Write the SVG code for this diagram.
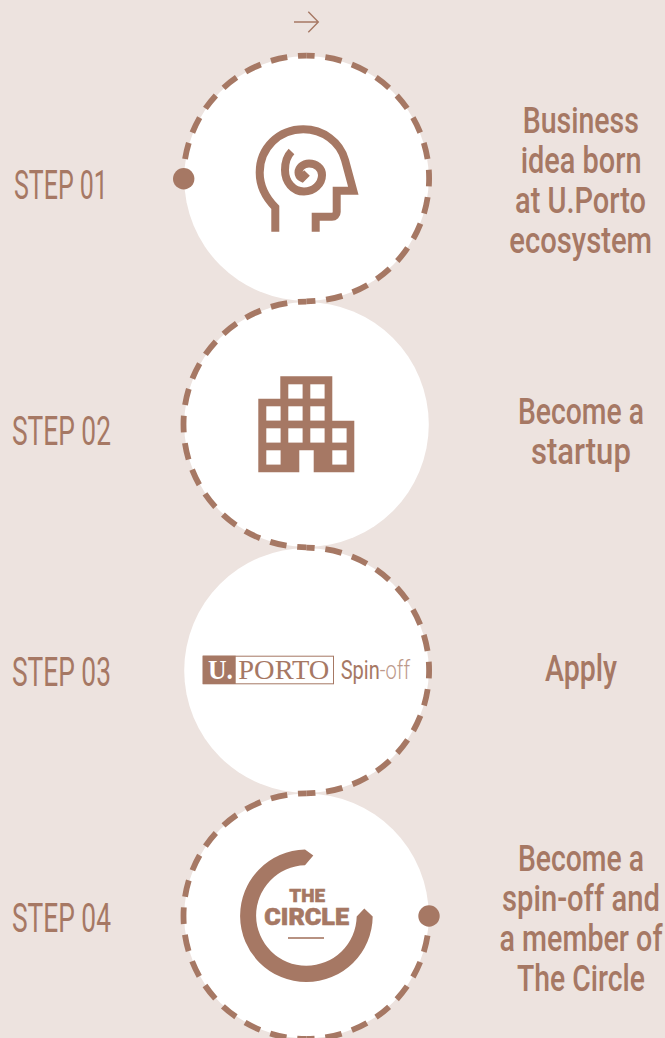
<svg xmlns="http://www.w3.org/2000/svg" width="665" height="1038" viewBox="0 0 665 1038">
<style>
.bg{fill:#ede3df}
.disc{fill:#fff}
.dash{fill:none;stroke:#a67864;stroke-width:5.8;stroke-dasharray:16.7 10.79;stroke-dashoffset:8.35}
.ic{fill:none;stroke:#a67864;stroke-width:8}
.solid{fill:#a67864}
.win{fill:#fff}
.desc{font-family:"Roboto",sans-serif;font-weight:500;font-size:37px;fill:#a67864}
.step{font-family:"Roboto",sans-serif;font-weight:400;font-size:40px;fill:#a67864}
</style>
<rect class="bg" width="665" height="1038"/>
<g id="arrow"><path d="M294 22H318.3M308.3 11.7L318.3 22L308.3 32.3" fill="none" stroke="#a67864" stroke-width="1.4"/></g>

<g id="discs">
<circle class="disc" cx="306.5" cy="178.5" r="122.3"/>
<circle class="disc" cx="306.5" cy="424.5" r="122.3"/>
<circle class="disc" cx="306.5" cy="670.5" r="122.3"/>
<circle class="disc" cx="306.5" cy="916" r="122.3"/>
</g>

<g id="connectors">
<path class="dash" d="M306.3 55.7A122.8 122.8 0 0 1 306.3 301.3"/>
<path class="dash" d="M306.3 55.7A122.8 122.8 0 0 0 183.5 178.5"/>
<path class="dash" d="M306.3 301.7A122.8 122.8 0 0 0 306.3 547.3"/>
<path class="dash" d="M306.3 547.7A122.8 122.8 0 0 1 306.3 793.3"/>
<path class="dash" d="M306.3 793.3A122.8 122.8 0 0 0 306.3 1038.9"/>
<path class="dash" d="M306.3 1038.9A122.8 122.8 0 0 0 429.1 916"/>
<circle class="solid" cx="183.7" cy="178.7" r="10.7"/>
<circle class="solid" cx="429" cy="916" r="10.7"/>
</g>

<g id="step1">
<text class="step" transform="translate(14 199.3) scale(.63 1)" textLength="149" lengthAdjust="spacingAndGlyphs">STEP 01</text>
<path class="ic" d="M275.3 231.7V207.3C266 198 259.7 187 259.7 172.5C259.7 148 279 129.3 303.3 129.3C323 129.3 340 142 345 160L353.3 190.7H336.7V212A4.7 4.7 0 0 1 332 216.7H315.7V231.7"/>
<path class="ic" stroke-width="7.8" d="M291.5 151.5C287 156 285 163 285 170C285 182 293 191.5 304 191.5C314 191.5 322 184 322 175C322 168 316 163.5 309 163.5C303 163.5 298.5 168 298.5 172.5C298.5 175 300 177 302 178L307 173"/>
<text class="desc" transform="translate(522.7 133.3) scale(.78 1)" textLength="149" lengthAdjust="spacingAndGlyphs">Business</text>
<text class="desc" transform="translate(520.7 173.3) scale(.78 1)" textLength="155" lengthAdjust="spacingAndGlyphs">idea born</text>
<text class="desc" transform="translate(515 213.3) scale(.78 1)" textLength="168" lengthAdjust="spacingAndGlyphs">at U.Porto</text>
<text class="desc" transform="translate(509.3 253.3) scale(.78 1)" textLength="183" lengthAdjust="spacingAndGlyphs">ecosystem</text>
</g>

<g id="step2">
<text class="step" transform="translate(12 445) scale(.63 1)" textLength="157" lengthAdjust="spacingAndGlyphs">STEP 02</text>
<path class="solid" d="M280.3 376.3H332.3V420.7H354.3V472.3H313.7V450.3H299.3V472.3H258.3V398.7H280.3Z"/>
<g class="win">
<rect x="288.3" y="384.3" width="14.3" height="14.3"/><rect x="310.3" y="384.3" width="14.3" height="14.3"/>
<rect x="266.3" y="406.3" width="14.3" height="14.3"/><rect x="288.3" y="406.3" width="14.3" height="14.3"/><rect x="310.3" y="406.3" width="14.3" height="14.3"/>
<rect x="266.3" y="428.3" width="14.3" height="14.3"/><rect x="288.3" y="428.3" width="14.3" height="14.3"/><rect x="310.3" y="428.3" width="14.3" height="14.3"/><rect x="332.3" y="428.3" width="14.3" height="14.3"/>
<rect x="266.3" y="450.3" width="14.3" height="14.3"/><rect x="332.3" y="450.3" width="14.3" height="14.3"/>
</g>
<text class="desc" transform="translate(518 424) scale(.78 1)" textLength="161.5" lengthAdjust="spacingAndGlyphs">Become a</text>
<text class="desc" transform="translate(531 464) scale(.78 1)" textLength="128" lengthAdjust="spacingAndGlyphs">startup</text>
</g>

<g id="step3">
<text class="step" transform="translate(12 686) scale(.63 1)" textLength="157" lengthAdjust="spacingAndGlyphs">STEP 03</text>
<rect x="203.2" y="656.2" width="130.3" height="27.6" fill="#fff" stroke="#a67864"/>
<rect class="solid" x="202.7" y="655.7" width="33" height="28.3"/>
<text x="208" y="679.3" font-family="Liberation Serif,serif" font-weight="700" font-size="28" fill="#fff" textLength="25" lengthAdjust="spacingAndGlyphs">U.</text>
<text x="238.3" y="678.5" font-family="Liberation Serif,serif" font-size="27" fill="#a67864" textLength="91" lengthAdjust="spacingAndGlyphs">PORTO</text>
<text transform="translate(340.7 679) scale(.73 1)" font-family="Roboto,sans-serif" font-size="26" fill="#a67864" textLength="95" lengthAdjust="spacingAndGlyphs">Spin<tspan font-weight="300" fill="#bd9a8b">-off</tspan></text>
<text class="desc" transform="translate(545 681) scale(.78 1)" textLength="92.3" lengthAdjust="spacingAndGlyphs">Apply</text>
</g>

<g id="step4">
<text class="step" transform="translate(12 932) scale(.63 1)" textLength="157" lengthAdjust="spacingAndGlyphs">STEP 04</text>
<path class="solid" d="M305 849.5L313.3 855.5L305 865.2A50.3 50.3 0 1 0 356.7 916.5L364.3 908.5L372.7 916.5A66.3 66.3 0 1 1 305 849.5Z"/>
<text x="289.3" y="902.3" font-family="Roboto,sans-serif" font-weight="900" font-size="18" fill="#a67864" stroke="#a67864" stroke-width=".5" textLength="35.7" lengthAdjust="spacingAndGlyphs">THE</text>
<text x="264.3" y="925" font-family="Roboto,sans-serif" font-weight="900" font-size="23" fill="#a67864" stroke="#a67864" stroke-width=".6" textLength="84.7" lengthAdjust="spacingAndGlyphs">CIRCLE</text>
<rect class="solid" x="288" y="937.2" width="36" height="1.6"/>
<text class="desc" transform="translate(518 871) scale(.78 1)" textLength="161.5" lengthAdjust="spacingAndGlyphs">Become a</text>
<text class="desc" transform="translate(502 911) scale(.78 1)" textLength="202.5" lengthAdjust="spacingAndGlyphs">spin-off and</text>
<text class="desc" transform="translate(499.5 951) scale(.78 1)" textLength="209" lengthAdjust="spacingAndGlyphs">a member of</text>
<text class="desc" transform="translate(517 991) scale(.78 1)" textLength="164" lengthAdjust="spacingAndGlyphs">The Circle</text>
</g>
</svg>
